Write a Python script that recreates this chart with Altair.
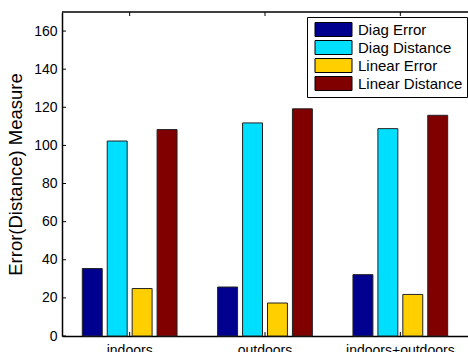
import altair as alt
import pandas as pd

# Grouped bar data
categories = ["indoors", "outdoors", "indoors+outdoors"]
series = ["Diag Error", "Diag Distance", "Linear Error", "Linear Distance"]
diag_error = [35.4, 25.7, 32.2]
diag_distance = [102.3, 111.8, 108.8]
linear_error = [24.9, 17.3, 21.8]
linear_distance = [108.3, 119.2, 115.8]
colors = ["#00008F", "#00DFFF", "#FFCF00", "#800000"]
y_ticks = [0, 20, 40, 60, 80, 100, 120, 140, 160]

rows = []
for name, vals in zip(series, [diag_error, diag_distance, linear_error, linear_distance]):
    for cat, v in zip(categories, vals):
        rows.append({"setting": cat, "series": name, "value": v})
df = pd.DataFrame(rows)

W, H = 406, 324
FONT = "Liberation Sans"

x_axis = alt.Axis(title=None, labelAngle=0, labelFontSize=14, labelPadding=7,
                  ticks=False, domainColor="black", domainWidth=1.5,
                  labelColor="black", labelFont=FONT)
y_axis = alt.Axis(values=y_ticks, title="Error(Distance) Measure", grid=False,
                  ticks=False, domainColor="black", domainWidth=1.5,
                  labelFontSize=14, labelPadding=5, labelColor="black",
                  labelFont=FONT, titleFont=FONT, titleFontSize=18.5,
                  titleFontWeight="normal", titleColor="black", titlePadding=8)
x_scale = alt.Scale(paddingInner=0.3, paddingOuter=0.15)
y_scale = alt.Scale(domain=[0, 170], nice=False)

bars = alt.Chart(df).mark_bar(stroke="#222222", strokeWidth=1).encode(
    x=alt.X("setting:N", sort=categories, scale=x_scale, axis=x_axis),
    xOffset=alt.XOffset("series:N", sort=series, scale=alt.Scale(paddingInner=0.2)),
    y=alt.Y("value:Q", scale=y_scale, axis=y_axis),
    color=alt.Color(
        "series:N",
        sort=series,
        scale=alt.Scale(domain=series, range=colors),
        legend=alt.Legend(
            title=None, orient="none", legendX=245, legendY=5,
            fillColor="white", strokeColor="black", padding=4,
            labelFontSize=15, labelFont=FONT, labelColor="black",
            symbolType="M-2.3125,-0.875H2.3125V0.875H-2.3125Z", symbolSize=256,
            symbolStrokeColor="black", symbolStrokeWidth=1,
            labelOffset=16, symbolOffset=14, rowPadding=-1.2,
        ),
    ),
)

# Inward tick marks on the left axis
ytick_df = pd.DataFrame({"value": y_ticks})
yticks = alt.Chart(ytick_df).mark_rule(color="black", strokeWidth=1).encode(
    y=alt.Y("value:Q", scale=y_scale, axis=y_axis),
    x=alt.value(0),
    x2=alt.value(4),
)

# Inward tick marks on bottom and top axes at each group
xtick_df = pd.DataFrame({"setting": categories})
xticks_bottom = alt.Chart(xtick_df).mark_rule(color="black", strokeWidth=1).encode(
    x=alt.X("setting:N", sort=categories, scale=x_scale, axis=x_axis),
    y=alt.value(H),
    y2=alt.value(H - 4),
)
xticks_top = alt.Chart(xtick_df).mark_rule(color="black", strokeWidth=1).encode(
    x=alt.X("setting:N", sort=categories, scale=x_scale, axis=x_axis),
    y=alt.value(0),
    y2=alt.value(4),
)

# Top frame line
top_line = alt.Chart(pd.DataFrame({"k": [0]})).mark_rule(color="black", strokeWidth=1.5).encode(
    x=alt.value(0),
    x2=alt.value(W),
    y=alt.value(0),
)

chart = (
    alt.layer(bars, yticks, xticks_bottom, xticks_top, top_line)
    .properties(
        width=W,
        height=H,
        autosize=alt.AutoSizeParams(type="none"),
        padding={"left": 62, "top": 12, "right": 0, "bottom": 16},
    )
    .configure(font=FONT)
    .configure_view(strokeWidth=0)
)

chart.save("out.html", embed_options={"renderer": "svg", "actions": False})
